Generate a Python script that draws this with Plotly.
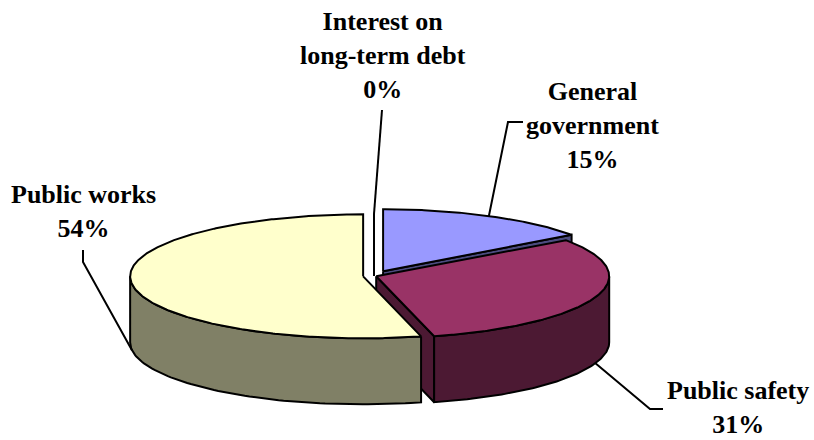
import numpy as np
import plotly.graph_objects as go

# ---- data ----
categories = ["General government", "Public safety", "Public works", "Interest on long-term debt"]
label_text = ["General<br>government", "Public safety", "Public works", "Interest on<br>long-term debt"]
values = [15, 31, 54, 0]

# ---- style ----
top_colors = ["#9999FF", "#993366", "#FFFFCC", "#CCFFFF"]
side_colors = ["#4C4C80", "#4C1933", "#808066", "#668080"]
pulls = [0.086, 0.01, 0.047, 0.0]
CX, CY, RX, RY, DEPTH = 374, 276, 233, 62, 66
FONT = dict(family="Times New Roman", size=26, color="black")

# label placement (pixel layout) : text centre, leader elbow, leader end
label_pos = [(592, 125), (738, 407), (83, 211), (383, 55)]
leader_elbow = [(508, 122), (650, 409), (83, 262), None]
leader_end = [(523, 122), (663, 409), (83, 250), (382, 110)]

total = float(sum(values))
bounds = np.concatenate([[0], np.cumsum(values)]) / total * 360.0


def rim(ax, ay, th):
    t = np.radians(np.atleast_1d(th))
    return ax + RX * np.sin(t), ay - RY * np.cos(t)


fig = go.Figure()


def poly(xs, ys, color):
    xs = list(xs) + [xs[0]]
    ys = list(ys) + [ys[0]]
    fig.add_trace(go.Scatter(x=xs, y=ys, mode="lines", fill="toself", fillcolor=color,
                             line=dict(color="black", width=2), hoverinfo="skip",
                             showlegend=False))


apexes = []
for i in range(len(values)):
    ts, te = bounds[i], bounds[i + 1]
    mid = np.radians((ts + te) / 2)
    ax = CX + pulls[i] * RX * np.sin(mid)
    ay = CY - pulls[i] * RY * np.cos(mid)
    apexes.append((ax, ay))

for i in range(len(values)):
    ts, te = bounds[i], bounds[i + 1]
    ax, ay = apexes[i]
    if te - ts <= 1e-9:
        continue
    # radial faces
    for th, vis in ((te, np.sin(np.radians(te)) > 1e-6), (ts, np.sin(np.radians(ts)) < -1e-6)):
        if vis:
            rx_, ry_ = rim(ax, ay, th)
            poly([ax, rx_[0], rx_[0], ax], [ay, ry_[0], ry_[0] + DEPTH, ay + DEPTH], side_colors[i])
    # curved front side
    a, b = max(ts, 90.0), min(te, 270.0)
    if b > a:
        th = np.linspace(a, b, 80)
        xs, ys = rim(ax, ay, th)
        poly(np.concatenate([xs, xs[::-1]]), np.concatenate([ys, ys[::-1] + DEPTH]), side_colors[i])
    # top face
    th = np.linspace(ts, te, max(int((te - ts) * 2), 4))
    xs, ys = rim(ax, ay, th)
    poly(np.concatenate([[ax], xs]), np.concatenate([[ay], ys]), top_colors[i])

# zero-size slices drawn as a line
for i in range(len(values)):
    ts, te = bounds[i], bounds[i + 1]
    if te - ts <= 1e-9:
        ax, ay = apexes[i]
        rx_, ry_ = rim(ax, ay, ts)
        fig.add_trace(go.Scatter(x=[ax, rx_[0]], y=[ay, ry_[0]], mode="lines",
                                 line=dict(color="black", width=2), hoverinfo="skip", showlegend=False))

# leader lines and labels
annotations = []
for i in range(len(values)):
    ts, te = bounds[i], bounds[i + 1]
    midd = (ts + te) / 2
    ax, ay = apexes[i]
    sx, sy = rim(ax, ay, midd)
    sx, sy = sx[0], sy[0]
    if np.cos(np.radians(midd)) < 0:
        sy += DEPTH
    xs, ys = [sx], [sy]
    if leader_elbow[i] is not None:
        xs.append(leader_elbow[i][0]); ys.append(leader_elbow[i][1])
    xs.append(leader_end[i][0]); ys.append(leader_end[i][1])
    fig.add_trace(go.Scatter(x=xs, y=ys, mode="lines", line=dict(color="black", width=2),
                             hoverinfo="skip", showlegend=False))
    pct = round(values[i] / total * 100)
    annotations.append(dict(x=label_pos[i][0], y=label_pos[i][1], xref="x", yref="y",
                            text="<b>%s<br>%d%%</b>" % (label_text[i], pct), showarrow=False,
                            xanchor="center", yanchor="middle", align="center", font=FONT))

fig.update_layout(
    width=814, height=440, margin=dict(l=0, r=0, t=0, b=0),
    paper_bgcolor="white", plot_bgcolor="white",
    xaxis=dict(range=[0, 814], visible=False, fixedrange=True),
    yaxis=dict(range=[440, 0], visible=False, fixedrange=True),
    annotations=annotations, showlegend=False,
)
fig.write_html("out.html")
